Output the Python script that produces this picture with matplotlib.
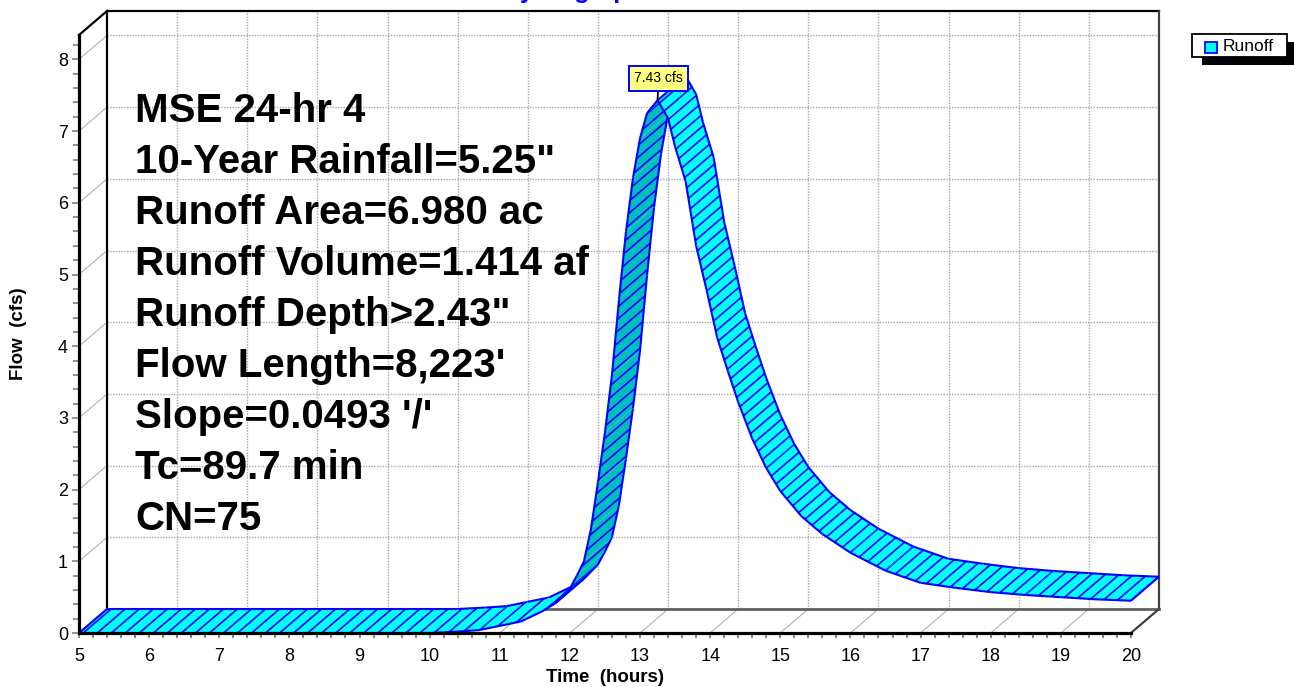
import numpy as np
import matplotlib
matplotlib.use("Agg")
import matplotlib.pyplot as plt
from matplotlib.patches import Polygon, Rectangle
from matplotlib.collections import LineCollection

plt.rcParams['font.family'] = ['Liberation Sans', 'DejaVu Sans']

# --- data (front edge of the ribbon) ---
time_hr = [5.0, 10.0, 10.4, 10.7, 11.0, 11.3, 11.6, 11.8, 12.0, 12.1, 12.2, 12.3,
           12.4, 12.5, 12.6, 12.7, 12.8, 12.9, 13.0, 13.1, 13.25, 13.4, 13.5,
           13.65, 13.8, 13.95, 14.1, 14.25, 14.4, 14.6, 14.8, 15.0, 15.3, 15.6,
           16.0, 16.5, 17.0, 17.5, 18.0, 18.5, 19.0, 19.5, 20.0]
flow_cfs = [0.0, 0.0, 0.02, 0.04, 0.10, 0.16, 0.30, 0.42, 0.62, 0.80, 1.00, 1.45,
            2.10, 2.80, 3.60, 4.65, 5.60, 6.35, 6.90, 7.25, 7.43, 7.18, 6.78,
            6.30, 5.40, 4.78, 4.12, 3.66, 3.22, 2.71, 2.30, 1.98, 1.63, 1.38,
            1.12, 0.87, 0.70, 0.63, 0.57, 0.53, 0.50, 0.47, 0.45]
peak_time = 13.25
peak_flow = 7.43
info_lines = ['MSE 24-hr 4', '10-Year Rainfall=5.25"', 'Runoff Area=6.980 ac',
              'Runoff Volume=1.414 af', 'Runoff Depth>2.43"', "Flow Length=8,223'",
              "Slope=0.0493 '/'", 'Tc=89.7 min', 'CN=75']
x_ticks = list(range(5, 21))
y_ticks = list(range(0, 9))
series_name = 'Runoff'

# --- geometry of the pseudo-3D frame (pixels) ---
W, H = 1294, 687
SX, SY = 70.13, 71.7           # px per hour, px per cfs
OFF_X, OFF_Y = 28, 24          # depth offset in px
DX, DY = OFF_X / SX, OFF_Y / SY
TOP = 8.34

cyan = '#00ffff'
teal = '#00bebe'
blue = '#0000ff'
grid_c = '#a8a8a8'


def fx(px):
    return px / W


def fy(py):
    return 1 - py / H


fig = plt.figure(figsize=(W / 100, H / 100), dpi=100)
ax = fig.add_axes([fx(79), fy(633), 1080 / W, 622 / H])
ax.set_xlim(5, 5 + 1080 / SX)
ax.set_ylim(0, 622 / SY)
ax.patch.set_visible(False)

# back wall grid
for q in y_ticks[1:]:
    ax.plot([5 + DX, 20 + DX], [q + DY, q + DY], color=grid_c, lw=1,
            ls=(0, (1, 1)), zorder=1, clip_on=False)
    ax.plot([5, 5 + DX], [q, q + DY], color=grid_c, lw=0.7, zorder=1, clip_on=False)
for t in x_ticks[1:-1]:
    ax.plot([t + DX, t + DX], [DY, TOP + DY], color=grid_c, lw=1,
            ls=(0, (1, 1)), zorder=1, clip_on=False)
    ax.plot([t, t + DX], [0, DY], color=grid_c, lw=0.7, zorder=1, clip_on=False)

# frame edges
ax.plot([5 + DX, 5 + DX], [DY, TOP + DY], color='black', lw=1.6, zorder=2, clip_on=False)
ax.plot([5 + DX, 20 + DX], [TOP + DY, TOP + DY], color='black', lw=1.6, zorder=2, clip_on=False)
ax.plot([5, 5 + DX], [TOP, TOP + DY], color='black', lw=1.6, zorder=2, clip_on=False)
ax.plot([20 + DX, 20 + DX], [DY, TOP + DY], color='#404040', lw=1.6, zorder=2, clip_on=False)
ax.plot([5 + DX, 20 + DX], [DY, DY], color='#606060', lw=2.0, zorder=2, clip_on=False)
ax.plot([20, 20 + DX], [0, DY], color='#404040', lw=1.6, zorder=2, clip_on=False)

# hatch lines along the depth direction
x0s = np.arange(5.06 - 10.0, 20.6, 0.2)
hatch_segs = [[(x0, 0), (x0 + 27 * DX, 27 * DY)] for x0 in x0s]

tx = np.array(time_hr)
qy = np.array(flow_cfs)
prev_up = None
for i in range(len(tx) - 1):
    p0 = (tx[i], qy[i])
    p1 = (tx[i + 1], qy[i + 1])
    b0 = (tx[i] + DX, qy[i] + DY)
    b1 = (tx[i + 1] + DX, qy[i + 1] + DY)
    sx = (tx[i + 1] - tx[i]) * SX
    sy = (qy[i + 1] - qy[i]) * SY
    up = sx * OFF_Y - sy * OFF_X > 0
    z = 3 + i * 0.01
    poly = Polygon([p0, p1, b1, b0], closed=True, fc=cyan if up else teal,
                   ec='none', zorder=z, clip_on=False)
    ax.add_patch(poly)
    hl = LineCollection(hatch_segs, colors=blue, linewidths=1.2, zorder=z)
    hl.set_clip_path(poly)
    ax.add_collection(hl)
    edges = [[p0, p1], [b0, b1]]
    if i == 0 or (prev_up is not None and up != prev_up):
        edges.append([p0, b0])
    if i == len(tx) - 2:
        edges.append([p1, b1])
    ax.add_collection(LineCollection(edges, colors=blue, linewidths=1.5,
                                     zorder=z + 0.001, clip_on=False))
    prev_up = up

# front axes
for side in ['top', 'right']:
    ax.spines[side].set_visible(False)
ax.spines['left'].set_bounds(0, TOP)
ax.spines['bottom'].set_bounds(5, 20)
for side in ['left', 'bottom']:
    ax.spines[side].set_linewidth(2.3)
    ax.spines[side].set_zorder(30)

ax.set_xticks(x_ticks)
ax.set_xticklabels([str(t) for t in x_ticks])
ax.set_xticks(np.arange(5, 20.01, 0.2), minor=True)
ax.set_yticks(y_ticks)
ax.set_yticklabels([str(q) for q in y_ticks])
ax.set_yticks(np.arange(0, 8.21, 0.2), minor=True)
ax.tick_params(axis='x', which='both', direction='out', length=3.5, width=1.2,
               color='#707070', labelsize=13, pad=7)
ax.tick_params(axis='y', which='major', direction='out', length=5, width=1.2,
               color='#808080', labelsize=13, pad=3)
ax.tick_params(axis='y', which='minor', direction='out', length=4, width=1.2,
               color='#808080')

fig.text(fx(605), fy(677), 'Time  (hours)', fontsize=13.5, fontweight='bold',
         ha='center', va='center')
fig.text(fx(19), fy(334), 'Flow  (cfs)', fontsize=13.5, fontweight='bold',
         ha='center', va='center', rotation=90)

# title, mostly cut off at the top edge as in the source chart
fig.text(fx(573), fy(-2), 'Hydrograph', fontsize=18, fontweight='bold',
         color=blue, ha='center', va='baseline')

# info block
for i, line in enumerate(info_lines):
    fig.text(fx(135), fy(122.5 + 50.95 * i), line, fontsize=29,
             fontweight='bold', ha='left', va='baseline', zorder=5)

# peak label
ax.annotate(f'{peak_flow:.2f} cfs', xy=(peak_time, peak_flow),
            xytext=(1, 22), textcoords='offset pixels', ha='center', va='center',
            fontsize=10, zorder=40, annotation_clip=False,
            bbox=dict(boxstyle='square,pad=0.38', fc='#ffff80', ec=blue, lw=1.4),
            arrowprops=dict(arrowstyle='-', color='black', lw=1.3,
                            shrinkA=0, shrinkB=0))

# legend with drop shadow
fig.add_artist(Rectangle((fx(1202), fy(65)), 96 / W, 23 / H, transform=fig.transFigure,
                         fc='black', ec='none'))
fig.add_artist(Rectangle((fx(1192), fy(57)), 95 / W, 23 / H, transform=fig.transFigure,
                         fc='white', ec='black', lw=1.3))
fig.add_artist(Rectangle((fx(1205), fy(53)), 12 / W, 11 / H, transform=fig.transFigure,
                         fc=cyan, ec=blue, lw=1.3))
fig.text(fx(1223), fy(46.5), series_name, fontsize=12.5, ha='left', va='center')

fig.savefig('out.png', dpi=100)
